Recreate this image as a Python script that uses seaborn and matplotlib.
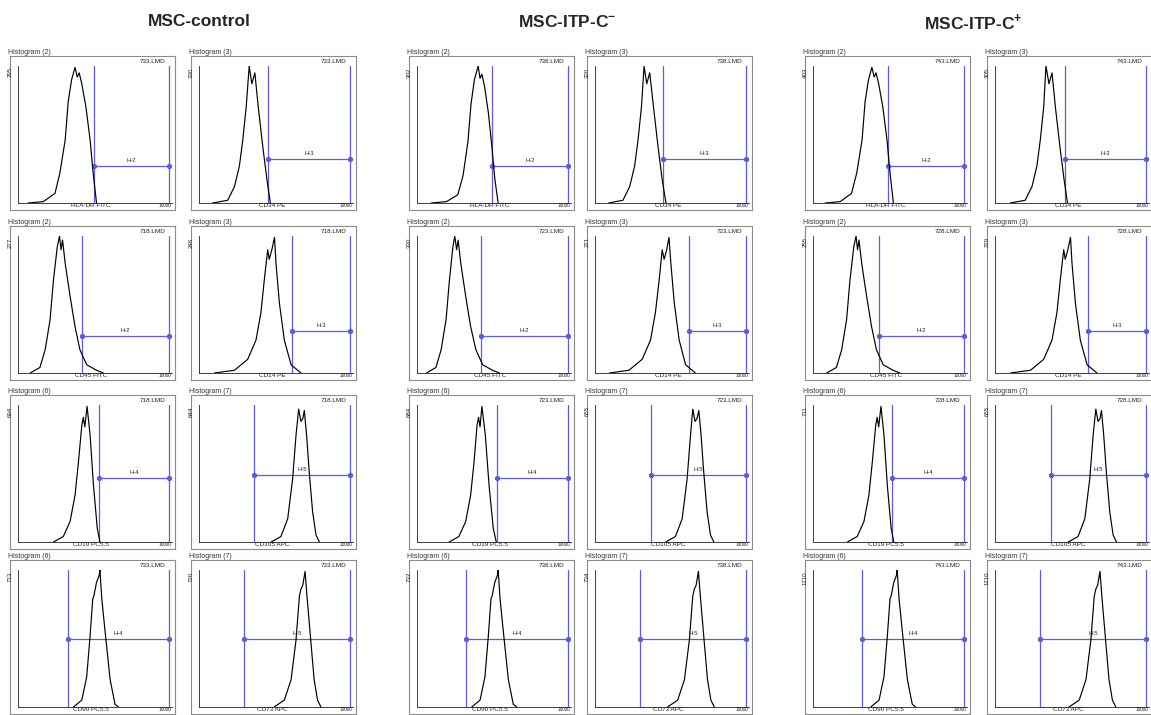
import numpy as np
import matplotlib
matplotlib.use("Agg")
import matplotlib.pyplot as plt
import seaborn as sns

# ---- data ----------------------------------------------------------------
groups = ["MSC-control", r"MSC-ITP-C$^{\mathbf{-}}$", r"MSC-ITP-C$^{\mathbf{+}}$"]
group_cx = [199, 567, 973]

markers = ["HLA-DR FITC", "CD34 PE", "CD45 FITC", "CD14 PE",
           "CD19 PC5.5", "CD105 APC", "CD90 PC5.5", "CD73 APC"]
hist_names = ["Histogram (2)", "Histogram (3)", "Histogram (2)", "Histogram (3)",
              "Histogram (6)", "Histogram (7)", "Histogram (6)", "Histogram (7)"]
gate_names = ["H-2", "H-3", "H-2", "H-3", "H-4", "H-5", "H-4", "H-5"]

lmd_ctrl = ["733.LMD", "733.LMD", "718.LMD", "718.LMD", "718.LMD", "718.LMD", "733.LMD", "733.LMD"]
lmd_neg = ["738.LMD", "738.LMD", "723.LMD", "723.LMD", "723.LMD", "723.LMD", "738.LMD", "738.LMD"]
lmd_pos = ["743.LMD", "743.LMD", "728.LMD", "728.LMD", "728.LMD", "728.LMD", "743.LMD", "743.LMD"]

ymax_ctrl = [295, 330, 277, 246, 694, 644, 713, 720]
ymax_neg = [302, 320, 330, 221, 684, 655, 732, 734]
ymax_pos = [403, 305, 255, 229, 711, 655, 1210, 1210]

# gate start (log10 of channel), gate end is 10000
gate_lo_ctrl = [2.01, 1.82, 1.70, 2.46, 2.15, 1.47, 1.33, 1.18]
gate_lo_neg = [1.99, 1.80, 1.70, 2.49, 2.12, 1.48, 1.30, 1.19]
gate_lo_pos = [1.99, 1.86, 1.75, 2.46, 2.10, 1.48, 1.30, 1.19]
# gate bar height as a fraction of the peak
gate_y = [0.27, 0.32, 0.27, 0.31, 0.47, 0.49, 0.50, 0.50]

# curves: log10(channel) and relative count
ctrl_x = [
    [0.27, 0.67, 0.98, 1.11, 1.25, 1.33, 1.42, 1.51, 1.57, 1.62, 1.69, 1.80, 1.91, 1.99, 2.08],
    [0.36, 0.76, 0.94, 1.07, 1.16, 1.25, 1.33, 1.40, 1.48, 1.57, 1.69, 1.80, 1.89],
    [0.32, 0.58, 0.72, 0.85, 0.94, 1.04, 1.10, 1.14, 1.18, 1.25, 1.38, 1.51, 1.64, 1.82, 2.08, 2.26],
    [0.41, 0.94, 1.29, 1.51, 1.64, 1.73, 1.82, 1.86, 1.93, 2.00, 2.04, 2.13, 2.26, 2.44, 2.70],
    [0.94, 1.20, 1.38, 1.51, 1.60, 1.69, 1.73, 1.77, 1.83, 1.91, 2.00, 2.10, 2.17],
    [1.91, 2.17, 2.35, 2.48, 2.57, 2.64, 2.70, 2.75, 2.79, 2.85, 2.92, 3.01, 3.10, 3.19],
    [1.47, 1.69, 1.82, 1.91, 1.98, 2.01, 2.08, 2.15, 2.17, 2.22, 2.30, 2.44, 2.57, 2.66],
    [1.99, 2.26, 2.44, 2.57, 2.66, 2.70, 2.75, 2.81, 2.86, 2.95, 3.05, 3.14, 3.23],
]
ctrl_y = [
    [0.0, 0.01, 0.07, 0.22, 0.46, 0.74, 0.90, 0.99, 0.92, 0.95, 0.87, 0.70, 0.46, 0.22, 0.0],
    [0.0, 0.02, 0.12, 0.27, 0.46, 0.70, 1.0, 0.87, 0.95, 0.70, 0.41, 0.17, 0.0],
    [0.0, 0.04, 0.17, 0.39, 0.68, 0.92, 1.0, 0.90, 0.97, 0.80, 0.56, 0.34, 0.17, 0.06, 0.02, 0.0],
    [0.0, 0.02, 0.10, 0.24, 0.44, 0.68, 0.90, 0.83, 0.90, 0.99, 0.80, 0.51, 0.24, 0.06, 0.0],
    [0.0, 0.04, 0.15, 0.34, 0.58, 0.85, 0.91, 0.84, 0.99, 0.78, 0.41, 0.10, 0.0],
    [0.0, 0.04, 0.17, 0.46, 0.78, 0.97, 0.88, 0.90, 0.96, 0.78, 0.51, 0.22, 0.05, 0.0],
    [0.0, 0.05, 0.22, 0.52, 0.79, 0.81, 0.91, 0.96, 1.0, 0.79, 0.57, 0.20, 0.02, 0.0],
    [0.0, 0.05, 0.20, 0.49, 0.81, 0.86, 0.89, 0.99, 0.81, 0.52, 0.20, 0.05, 0.0],
]
neg_x = [
    [0.38, 0.78, 1.08, 1.22, 1.35, 1.43, 1.52, 1.62, 1.67, 1.72, 1.79, 1.89, 1.98, 2.06, 2.15],
    [0.36, 0.74, 0.92, 1.05, 1.14, 1.23, 1.30, 1.37, 1.45, 1.55, 1.67, 1.78, 1.88],
    [0.25, 0.50, 0.64, 0.77, 0.86, 0.95, 1.00, 1.05, 1.09, 1.16, 1.29, 1.42, 1.56, 1.74, 2.00, 2.18],
    [0.38, 0.90, 1.25, 1.47, 1.60, 1.70, 1.78, 1.83, 1.90, 1.96, 2.01, 2.10, 2.23, 2.40, 2.66],
    [0.85, 1.11, 1.29, 1.42, 1.51, 1.59, 1.63, 1.67, 1.72, 1.81, 1.91, 2.02, 2.10],
    [1.87, 2.13, 2.31, 2.44, 2.53, 2.59, 2.65, 2.70, 2.75, 2.81, 2.88, 2.97, 3.06, 3.15],
    [1.45, 1.67, 1.80, 1.89, 1.96, 1.99, 2.06, 2.13, 2.15, 2.20, 2.28, 2.42, 2.55, 2.64],
    [1.92, 2.19, 2.37, 2.50, 2.59, 2.63, 2.68, 2.74, 2.79, 2.88, 2.98, 3.07, 3.16],
]
neg_y = [
    [0.0, 0.01, 0.06, 0.20, 0.45, 0.72, 0.90, 1.0, 0.91, 0.94, 0.85, 0.66, 0.42, 0.18, 0.0],
    [0.0, 0.02, 0.12, 0.27, 0.46, 0.70, 1.0, 0.87, 0.95, 0.70, 0.41, 0.17, 0.0],
    [0.0, 0.04, 0.17, 0.39, 0.68, 0.92, 1.0, 0.90, 0.97, 0.80, 0.56, 0.34, 0.17, 0.06, 0.02, 0.0],
    [0.0, 0.02, 0.10, 0.24, 0.44, 0.68, 0.90, 0.83, 0.90, 0.99, 0.80, 0.51, 0.24, 0.06, 0.0],
    [0.0, 0.04, 0.15, 0.34, 0.58, 0.85, 0.91, 0.84, 0.99, 0.78, 0.41, 0.10, 0.0],
    [0.0, 0.04, 0.17, 0.46, 0.78, 0.97, 0.88, 0.90, 0.96, 0.78, 0.51, 0.22, 0.05, 0.0],
    [0.0, 0.05, 0.22, 0.52, 0.79, 0.81, 0.91, 0.96, 1.0, 0.79, 0.57, 0.20, 0.02, 0.0],
    [0.0, 0.05, 0.20, 0.49, 0.81, 0.86, 0.89, 0.99, 0.81, 0.52, 0.20, 0.05, 0.0],
]
pos_x = [
    [0.32, 0.72, 1.02, 1.16, 1.30, 1.38, 1.47, 1.56, 1.62, 1.67, 1.74, 1.85, 1.96, 2.04, 2.13],
    [0.40, 0.80, 0.98, 1.11, 1.20, 1.29, 1.35, 1.43, 1.51, 1.60, 1.72, 1.83, 1.92],
    [0.36, 0.62, 0.76, 0.89, 0.98, 1.08, 1.14, 1.18, 1.22, 1.29, 1.42, 1.55, 1.68, 1.86, 2.12, 2.30],
    [0.41, 0.94, 1.29, 1.51, 1.64, 1.73, 1.82, 1.86, 1.93, 2.00, 2.04, 2.13, 2.26, 2.44, 2.70],
    [0.91, 1.17, 1.35, 1.48, 1.57, 1.66, 1.70, 1.74, 1.80, 1.88, 1.97, 2.07, 2.14],
    [1.94, 2.20, 2.38, 2.51, 2.60, 2.67, 2.73, 2.78, 2.82, 2.88, 2.95, 3.04, 3.13, 3.22],
    [1.53, 1.75, 1.88, 1.97, 2.04, 2.07, 2.14, 2.21, 2.23, 2.28, 2.36, 2.50, 2.63, 2.72],
    [1.96, 2.23, 2.41, 2.54, 2.63, 2.67, 2.72, 2.78, 2.83, 2.92, 3.02, 3.11, 3.20],
]
pos_y = [
    [0.0, 0.01, 0.07, 0.22, 0.46, 0.74, 0.90, 0.99, 0.92, 0.95, 0.87, 0.70, 0.46, 0.22, 0.0],
    [0.0, 0.02, 0.12, 0.27, 0.46, 0.70, 1.0, 0.87, 0.95, 0.70, 0.41, 0.17, 0.0],
    [0.0, 0.04, 0.17, 0.39, 0.68, 0.92, 1.0, 0.90, 0.97, 0.80, 0.56, 0.34, 0.17, 0.06, 0.02, 0.0],
    [0.0, 0.02, 0.10, 0.24, 0.44, 0.68, 0.90, 0.83, 0.90, 0.99, 0.80, 0.51, 0.24, 0.06, 0.0],
    [0.0, 0.04, 0.15, 0.34, 0.58, 0.85, 0.91, 0.84, 0.99, 0.78, 0.41, 0.10, 0.0],
    [0.0, 0.04, 0.17, 0.46, 0.78, 0.97, 0.88, 0.90, 0.96, 0.78, 0.51, 0.22, 0.05, 0.0],
    [0.0, 0.05, 0.22, 0.52, 0.79, 0.81, 0.91, 0.96, 1.0, 0.79, 0.57, 0.20, 0.02, 0.0],
    [0.0, 0.05, 0.20, 0.49, 0.81, 0.86, 0.89, 0.99, 0.81, 0.52, 0.20, 0.05, 0.0],
]

# ---- styling ---------------------------------------------------------------
sns.set_style("white")
plt.rcParams['font.family'] = ['Liberation Sans', 'DejaVu Sans']
plt.rcParams['mathtext.fontset'] = 'custom'
plt.rcParams['mathtext.rm'] = 'Liberation Sans'
plt.rcParams['mathtext.bf'] = 'Liberation Sans:bold'

W, H = 1151, 715
fig = plt.figure(figsize=(W / 100, H / 100), dpi=100)
BLUE = '#5c5cdc'
GRAY = '#8c8c8c'

box_left = [10, 191, 409, 587, 805, 987]
box_top = [56, 226, 395, 560]
BW, BH = 165, 154
IW = 154
PX_DEC = 37.75  # pixels per decade


def rect(x, y, w, h):
    return [x / W, 1 - (y + h) / H, w / W, h / H]


all_x = [ctrl_x, neg_x, pos_x]
all_y = [ctrl_y, neg_y, pos_y]
all_ymax = [ymax_ctrl, ymax_neg, ymax_pos]
all_gate = [gate_lo_ctrl, gate_lo_neg, gate_lo_pos]
all_lmd = [lmd_ctrl, lmd_neg, lmd_pos]

for g in range(3):
    fig.text(group_cx[g] / W, 1 - 22 / H, groups[g], ha='center', va='center',
             fontsize=12.5, fontweight='bold')
    for i in range(8):
        row, col = i // 2, i % 2
        bx, by = box_left[2 * g + col], box_top[row]

        frame = fig.add_axes(rect(bx, by, BW, BH))
        frame.set_xticks([])
        frame.set_yticks([])
        frame.patch.set_alpha(0)
        for s in frame.spines.values():
            s.set_color(GRAY)
            s.set_linewidth(0.8)
        frame.text(-0.01, 1.0, hist_names[i], transform=frame.transAxes, ha='left',
                   va='bottom', fontsize=5, color='#333333')
        frame.text(0.94, 0.965, all_lmd[g][i], transform=frame.transAxes, ha='right',
                   va='center', fontsize=4.6, color='#222222')
        frame.text(0.49, 0.03, markers[i], transform=frame.transAxes, ha='center',
                   va='center', fontsize=4.6, color='#222222')
        frame.text(0.975, 0.03, '10000', transform=frame.transAxes, ha='right',
                   va='center', fontsize=3.4, color='#222222')

        ymax = all_ymax[g][i]
        ax = fig.add_axes(rect(bx + 8, by + 10, IW, 137))
        ax.patch.set_alpha(0)
        ax.set_xscale('log')
        ax.set_xlim(1, 10 ** (IW / PX_DEC))
        ax.set_ylim(0, ymax)
        for s in ['top', 'right']:
            ax.spines[s].set_visible(False)
        for s in ['left', 'bottom']:
            ax.spines[s].set_color('#222222')
            ax.spines[s].set_linewidth(0.6)
        ax.set_yticks(np.linspace(0, ymax, 21))
        ax.set_xticks([1, 10, 100, 1000, 10000])
        ax.tick_params(direction='in', length=1.6, width=0.4, labelleft=False,
                       labelbottom=False, colors='#222222')
        ax.tick_params(which='minor', direction='in', length=1.0, width=0.3)
        ax.text(-0.035, 0.99, str(ymax), transform=ax.transAxes, rotation=90,
                ha='right', va='top', fontsize=4.4, color='#222222')

        # gate
        lo = all_gate[g][i]
        gy = gate_y[i] * ymax
        ax.axvline(10 ** lo, color=BLUE, lw=0.9)
        ax.axvline(10 ** 4, color=BLUE, lw=0.9)
        ax.plot([10 ** lo, 10 ** 4], [gy, gy], color=BLUE, lw=0.9, marker='o', ms=2.8)
        ax.text(10 ** ((lo + 4) / 2), gy + 0.02 * ymax, gate_names[i], ha='center',
                va='bottom', fontsize=4.2, color='#222222')

        # histogram curve
        cx = 10 ** np.array(all_x[g][i])
        cy = np.array(all_y[g][i]) * ymax
        sns.lineplot(x=cx, y=cy, ax=ax, color='black', lw=0.85, sort=False,
                     estimator=None)
        ax.set_xlabel('')
        ax.set_ylabel('')

fig.savefig('out.png', dpi=100)
